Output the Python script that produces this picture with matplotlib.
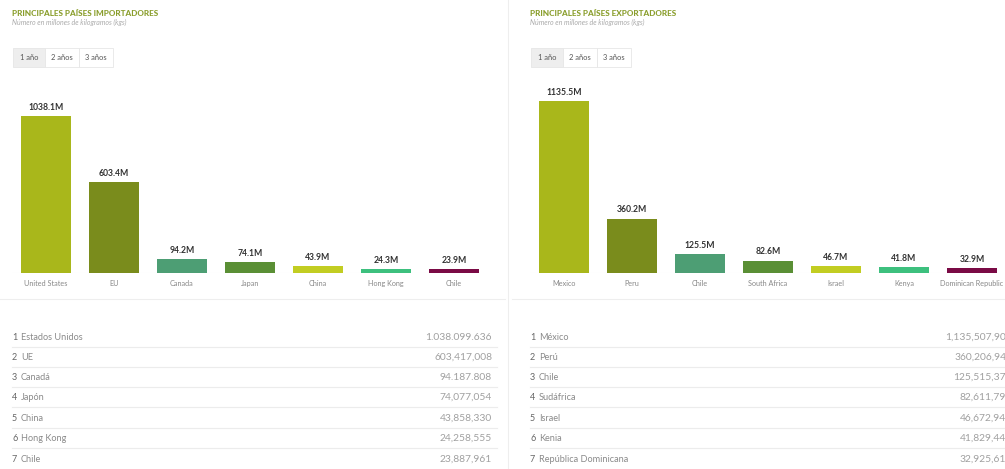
import matplotlib.pyplot as plt
from matplotlib.patches import Rectangle

plt.rcParams['font.family'] = ['Lato', 'DejaVu Sans']

# Data
imp_countries = ['United States', 'EU', 'Canada', 'Japan', 'China', 'Hong Kong', 'Chile']
imp_values = [1038.1, 603.4, 94.2, 74.1, 43.9, 24.3, 23.9]
imp_names_es = ['Estados Unidos', 'UE', 'Canadá', 'Japón', 'China', 'Hong Kong', 'Chile']
imp_kgs = ['1.038.099.636', '603,417,008', '94.187.808', '74,077,054',
           '43,858,330', '24,258,555', '23,887,961']

exp_countries = ['Mexico', 'Peru', 'Chile', 'South Africa', 'Israel', 'Kenya', 'Dominican Republic']
exp_values = [1135.5, 360.2, 125.5, 82.6, 46.7, 41.8, 32.9]
exp_names_es = ['México', 'Perú', 'Chile', 'Sudáfrica', 'Israel', 'Kenia', 'República Dominicana']
exp_kgs = ['1,135,507,903', '360,206,942', '125,515,371', '82,611,799',
           '46,672,942', '41,829,446', '32,925,619']

bar_colors = ['#a9b71b', '#7a8c1c', '#4d9e74', '#5a8f35', '#c2cd22', '#3dc07e', '#7a0a45']

W, H = 1005, 469
fig = plt.figure(figsize=(W / 100, H / 100), dpi=100)
fig.patch.set_facecolor('white')


def fx(x):
    return x / W


def fy(y):
    return 1 - y / H


def hline(x0, x1, y, color='#ececec', lw=0.8):
    fig.add_artist(plt.Line2D([fx(x0), fx(x1)], [fy(y), fy(y)], color=color, lw=lw,
                              transform=fig.transFigure))


def panel(x0, title, countries, values, names_es, kgs, val_right):
    # header
    fig.text(fx(x0), fy(13), title, fontsize=5.9, fontweight='black', color='#8a9e2c',
             va='center', ha='left')
    fig.text(fx(x0), fy(22), 'Número en millones de kilogramos (kgs)', fontsize=5.0,
             style='italic', color='#aaaaaa', va='center', ha='left')

    # period buttons
    btns = [('1 año', 32), ('2 años', 34), ('3 años', 34)]
    bx = x0 + 1
    for i, (lab, w) in enumerate(btns):
        fig.add_artist(Rectangle((fx(bx), fy(67)), fx(w), 19 / H, transform=fig.transFigure,
                                 facecolor='#eeeeee' if i == 0 else 'white',
                                 edgecolor='#e6e6e6', lw=0.6))
        fig.text(fx(bx + w / 2), fy(57.5), lab, fontsize=5.4, color='#555555',
                 ha='center', va='center')
        bx += w

    # bars: 157 px per 1038.1M on both panels
    scale = 157 / 1038.1
    ax = fig.add_axes([fx(x0), fy(273), fx(476), 183 / H])
    ax.set_xlim(-0.5, 6.5)
    ax.set_ylim(0, 183 / scale)
    pos = list(range(len(values)))
    ax.bar(pos, values, width=0.735, color=bar_colors, zorder=2)
    ax.axhline(0, xmin=0, xmax=0.98, color='#eeeeee', lw=0.8, zorder=1)
    for p, v in zip(pos, values):
        ax.annotate(f'{v}M', (p, v), xytext=(0, 3), textcoords='offset points',
                    ha='center', va='bottom', fontsize=6.2, fontweight='bold', color='#333333')
    ax.set_xticks(pos)
    ax.set_xticklabels(countries, fontsize=5.2, color='#888888')
    ax.tick_params(axis='x', length=0, pad=5)
    ax.set_yticks([])
    for s in ax.spines.values():
        s.set_visible(False)
    ax.patch.set_alpha(0)

    # table
    row_y = [337, 357, 377, 397, 418, 438, 459]
    for i, (name, k) in enumerate(zip(names_es, kgs)):
        y = row_y[i]
        fig.text(fx(x0), fy(y), str(i + 1), fontsize=6.5, color='#666666', ha='left', va='center')
        fig.text(fx(x0 + 9), fy(y), name, fontsize=6.6, color='#8a8a8a', ha='left', va='center')
        fig.text(fx(val_right), fy(y), k, fontsize=7.4, color='#a0a0a0', ha='right', va='center')
        if i < len(names_es) - 1:
            hline(x0, min(val_right + 5, W), y + 10)


panel(12, 'PRINCIPALES PAÍSES IMPORTADORES', imp_countries, imp_values, imp_names_es,
      imp_kgs, 492)
panel(530, 'PRINCIPALES PAÍSES EXPORTADORES', exp_countries, exp_values, exp_names_es,
      exp_kgs, 1012)

# dividers
hline(0, 505, 299, color='#eeeeee')
hline(512, 1005, 299, color='#eeeeee')
fig.add_artist(plt.Line2D([fx(508), fx(508)], [0, 1], color='#eeeeee', lw=0.8,
                          transform=fig.transFigure))

fig.savefig('out.png', dpi=100)
